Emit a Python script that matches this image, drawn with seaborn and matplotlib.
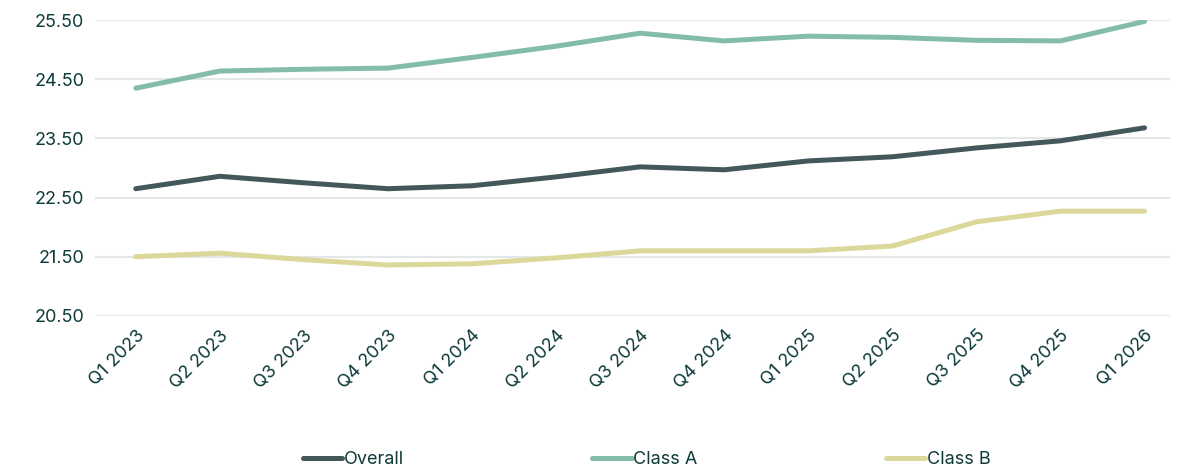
import matplotlib
matplotlib.use("Agg")
import matplotlib.pyplot as plt
import pandas as pd
import seaborn as sns

# ── Data ──────────────────────────────────────────────────────────────────────
quarters = ["Q1 2023", "Q2 2023", "Q3 2023", "Q4 2023",
            "Q1 2024", "Q2 2024", "Q3 2024", "Q4 2024",
            "Q1 2025", "Q2 2025", "Q3 2025", "Q4 2025", "Q1 2026"]

overall = [22.65, 22.86, 22.75, 22.65, 22.70, 22.85, 23.02, 22.97,
           23.12, 23.19, 23.34, 23.46, 23.68]
class_a = [24.35, 24.64, 24.67, 24.69, 24.87, 25.06, 25.28, 25.15,
           25.23, 25.21, 25.16, 25.15, 25.48]
class_b = [21.50, 21.56, 21.45, 21.36, 21.38, 21.48, 21.60, 21.60,
           21.60, 21.68, 22.09, 22.27, 22.27]

yticks = [20.5, 21.5, 22.5, 23.5, 24.5, 25.5]

series = {"Overall": overall, "Class A": class_a, "Class B": class_b}
colors = {"Overall": "#44575a", "Class A": "#84bcaa", "Class B": "#dcd89a"}

df = pd.concat(
    [pd.DataFrame({"quarter": quarters, "pos": range(len(quarters)),
                   "value": vals, "series": name})
     for name, vals in series.items()],
    ignore_index=True,
)

# ── Style ─────────────────────────────────────────────────────────────────────
sns.set_style("white")
plt.rcParams["font.family"] = ["Inter", "DejaVu Sans"]
text_col = "#0e3a3a"

fig, ax = plt.subplots(figsize=(11.78, 4.70), dpi=100)
fig.subplots_adjust(left=0.081, right=0.993, top=0.957, bottom=0.328)

sns.lineplot(data=df, x="pos", y="value", hue="series",
             hue_order=list(series), palette=colors,
             linewidth=3.6, solid_capstyle="round", ax=ax, legend=True)

ax.set_ylim(20.5, 25.5)
ax.set_yticks(yticks)
ax.set_yticklabels([f"{v:.2f}" for v in yticks])
ax.set_xlim(-0.48, 12.3)
ax.set_xticks(range(len(quarters)))
ax.set_xticklabels(quarters, rotation=45, ha="right", rotation_mode="anchor")

ax.grid(axis="y", color="#e3e7e7", linewidth=1.5)
ax.set_axisbelow(True)
for s in ax.spines.values():
    s.set_visible(False)
ax.tick_params(axis="both", length=0, labelsize=13, colors=text_col, pad=8)
ax.set_xlabel("")
ax.set_ylabel("")

handles, labels = ax.get_legend_handles_labels()
ax.get_legend().remove()
leg = fig.legend(handles, labels, loc="center", bbox_to_anchor=(0.549, 0.022),
                 ncol=3, frameon=False, fontsize=13, handlelength=2.2,
                 handletextpad=0.1, columnspacing=10.4, borderpad=0)
for t in leg.get_texts():
    t.set_color(text_col)

fig.savefig("out.png", dpi=100)
